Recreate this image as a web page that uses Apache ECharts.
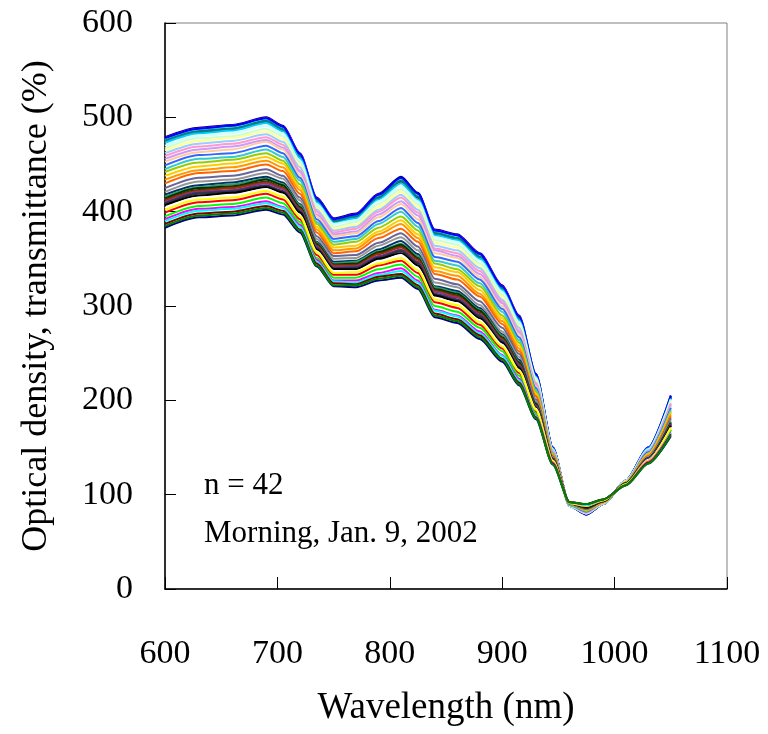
<!DOCTYPE html>
<html>
<head>
<meta charset="utf-8">
<script src="https://cdn.jsdelivr.net/npm/echarts@6/dist/echarts.min.js"></script>
<style>
  html, body { margin: 0; padding: 0; background: #fff; }
  #chart { width: 768px; height: 734px; }
</style>
</head>
<body>
<div id="chart"></div>
<script>
var wavelength = [600, 630, 660, 690, 705, 720, 735, 750, 770, 790, 810, 825, 840, 860, 880, 900, 915, 930, 945, 960, 975, 990, 1010, 1030, 1050];

// 42 spectra, series order as in the original workbook
var s01 = [479,489,492,500,491,462,415,393,398,419,437,420,381,376,356,322,290,228,150,88,79,90,115,150,205];
var s02 = [478,488,491,499,490,461,414,392,397,418,435,418,380,375,355,321,289,227,150,88,79,90,115,150,204];
var s03 = [476,486,489,497,488,459,412,390,395,416,433,416,378,373,353,319,287,226,149,88,79,90,115,149,203];
var s04 = [477,487,490,498,489,460,413,391,396,417,434,417,379,374,354,320,288,227,150,88,79,90,115,150,204];
var s05 = [475,485,488,496,487,458,412,390,394,415,432,415,377,372,352,318,287,226,149,88,79,90,115,149,203];
var s06 = [474,484,487,495,486,458,411,389,394,414,432,415,376,371,351,318,286,226,149,88,80,90,115,149,203];
var s07 = [475,485,488,496,487,459,412,390,395,415,433,416,377,372,352,319,287,226,149,88,79,90,115,149,203];
var s08 = [478,488,491,499,490,461,414,392,397,418,436,419,380,375,355,321,289,228,150,88,79,90,115,150,205];
var s09 = [473,483,486,494,485,457,410,388,393,413,430,413,375,370,350,317,285,225,149,88,80,90,115,149,202];
var s10 = [470,480,483,491,483,454,408,387,391,411,427,411,373,368,348,315,283,224,148,88,80,90,115,148,201];
var s11 = [467,478,480,488,480,452,406,384,389,408,424,408,370,365,345,312,281,222,148,88,80,91,114,148,200];
var s12 = [465,475,478,485,477,449,404,382,386,405,421,405,367,362,342,310,279,221,147,89,81,91,114,147,199];
var s13 = [462,472,475,482,474,447,402,380,384,402,418,402,364,359,340,307,277,219,147,89,81,91,114,147,197];
var s14 = [459,469,472,479,471,444,400,378,382,400,415,399,361,356,337,305,274,218,146,89,81,91,114,146,196];
var s15 = [456,466,469,476,468,442,397,376,379,397,411,396,359,353,334,303,272,216,146,89,82,91,114,146,195];
var s16 = [453,463,466,474,466,439,395,374,377,394,408,392,356,351,331,300,270,215,145,89,82,91,114,145,193];
var s17 = [449,460,462,470,462,436,392,371,374,390,404,388,352,347,328,297,267,213,144,89,82,92,113,145,192];
var s18 = [445,456,458,466,458,433,389,368,371,387,400,384,348,343,324,294,264,211,144,89,83,92,113,144,190];
var s19 = [442,452,455,462,454,429,387,365,368,383,395,380,345,339,321,290,261,209,143,90,83,92,113,143,188];
var s20 = [438,448,451,458,451,426,384,362,364,379,391,376,341,336,317,287,258,207,142,90,84,92,113,143,187];
var s21 = [434,444,447,454,447,423,381,359,361,376,387,372,337,332,313,284,255,205,142,90,84,92,113,142,185];
var s22 = [430,441,443,450,443,419,378,356,358,372,382,368,334,328,310,281,252,204,141,90,85,93,112,141,183];
var s23 = [425,436,438,445,438,415,374,353,354,367,377,363,329,323,305,277,249,201,140,90,85,93,112,140,181];
var s24 = [421,432,434,441,435,412,371,350,351,364,373,359,325,320,301,273,246,199,139,90,86,93,112,140,179];
var s25 = [418,428,431,437,431,408,368,347,348,360,369,355,321,316,298,270,243,197,138,91,86,93,112,139,177];
var s26 = [416,426,429,435,429,407,367,345,347,358,366,353,320,314,296,269,241,196,138,91,86,93,112,139,177];
var s27 = [414,425,427,434,428,405,366,344,345,357,365,351,318,313,295,267,240,196,138,91,86,93,112,139,176];
var s28 = [413,423,426,432,426,404,365,343,344,356,363,350,317,311,293,266,239,195,138,91,87,93,112,138,175];
var s29 = [412,422,425,431,425,403,364,343,343,355,362,349,316,310,292,265,238,194,137,91,87,94,111,138,175];
var s30 = [410,421,423,430,424,402,363,342,342,353,360,347,315,309,291,264,237,194,137,91,87,94,111,138,174];
var s31 = [409,420,422,428,422,401,362,340,341,352,359,346,313,307,290,263,236,193,137,91,87,94,111,138,174];
var s32 = [408,419,421,427,421,400,361,340,340,351,358,345,312,306,289,262,235,192,137,91,87,94,111,137,173];
var s33 = [407,417,420,426,420,399,360,339,339,350,356,343,311,305,287,261,234,192,136,91,87,94,111,137,173];
var s34 = [404,415,417,424,418,396,358,337,337,347,354,340,308,303,285,259,232,191,136,91,88,94,111,137,171];
var s35 = [399,410,412,419,413,392,354,333,333,343,348,335,304,298,280,255,229,188,135,91,88,94,111,136,169];
var s36 = [395,406,408,415,409,389,351,330,330,339,344,331,300,294,277,252,226,186,134,91,89,94,111,135,168];
var s37 = [383,394,396,402,397,378,342,321,320,327,330,318,288,282,265,241,216,180,132,92,90,95,110,133,162];
var s38 = [402,413,415,422,416,395,357,335,336,345,351,338,307,301,283,257,231,190,136,91,88,94,111,136,171];
var s39 = [392,403,405,411,405,386,349,327,327,335,340,327,296,290,273,248,223,184,134,92,89,95,110,135,166];
var s40 = [390,401,403,409,404,384,347,326,325,333,337,325,295,289,271,247,221,183,133,92,89,95,110,134,165];
var s41 = [387,398,400,406,401,381,345,324,323,331,334,322,292,286,269,244,219,182,133,92,90,95,110,134,164];
var s42 = [385,396,398,404,399,380,343,322,322,329,332,320,290,284,267,243,217,181,132,92,90,95,110,133,163];

var spectra = [s01,s02,s03,s04,s05,s06,s07,s08,s09,s10,s11,s12,s13,s14,s15,s16,s17,s18,s19,s20,s21,
               s22,s23,s24,s25,s26,s27,s28,s29,s30,s31,s32,s33,s34,s35,s36,s37,s38,s39,s40,s41,s42];

// old spreadsheet line palette
var lineColors = ['#000080','#FF00FF','#FFFF00','#00FFFF','#800080','#800000','#008080','#0000FF',
                  '#00CCFF','#CCFFFF','#CCFFCC','#FFFF99','#99CCFF','#FF99CC','#CC99FF','#FFCC99',
                  '#3366FF','#33CCCC','#99CC00','#FFCC00','#FF9900','#FF6600','#666699','#969696',
                  '#003366','#339966','#003300','#333300','#993300','#993366','#333399','#333333',
                  '#000000','#FFFFFF','#FF0000','#00FF00','#000080','#FFFF00','#FF00FF','#00FFFF',
                  '#800000','#008000'];

var xTicks = [600, 700, 800, 900, 1000, 1100];
var yTicks = [0, 100, 200, 300, 400, 500, 600];
var notes = ['n = 42', 'Morning, Jan. 9, 2002'];

var serif = '"Liberation Serif", "Times New Roman", serif';

var chart = echarts.init(document.getElementById('chart'), null, { renderer: 'canvas' });

var series = spectra.map(function (s, k) {
    return {
        name: 'S' + (k + 1),
        type: 'line',
        symbol: 'none',
        smooth: 0.25,
        smoothMonotone: 'x',
        lineStyle: { color: lineColors[k], width: 2 },
        data: wavelength.map(function (w, i) { return [w, s[i]]; })
    };
});

chart.setOption({
    animation: false,
    backgroundColor: '#fff',
    grid: {
        left: 165, top: 23, right: 41, bottom: 145,
        show: true, borderColor: '#808080', borderWidth: 1, backgroundColor: 'transparent'
    },
    xAxis: {
        type: 'value',
        min: xTicks[0], max: xTicks[xTicks.length - 1], interval: 100,
        name: 'Wavelength (nm)',
        nameLocation: 'middle', nameGap: 101,
        nameTextStyle: { fontFamily: serif, fontSize: 37, color: '#000' },
        axisLine: { show: true, onZero: false, lineStyle: { color: '#000', width: 1.5 } },
        axisTick: { show: true, inside: true, length: 12, lineStyle: { color: '#000' } },
        axisLabel: {
            margin: 48, fontFamily: serif, fontSize: 34, color: '#000',
            formatter: function (v) { return String(v); }
        },
        splitLine: { show: false }
    },
    yAxis: {
        type: 'value',
        min: yTicks[0], max: yTicks[yTicks.length - 1], interval: 100,
        name: 'Optical density, transmittance (%)',
        nameLocation: 'middle', nameGap: 110,
        nameTextStyle: { fontFamily: serif, fontSize: 36, color: '#000' },
        axisLine: { show: true, onZero: false, lineStyle: { color: '#000', width: 1.5 } },
        axisTick: { show: true, inside: true, length: 11, lineStyle: { color: '#000' } },
        axisLabel: {
            margin: 32, fontFamily: serif, fontSize: 34, color: '#000',
            formatter: function (v) { return String(v); }
        },
        splitLine: { show: false }
    },
    graphic: [
        { type: 'text', left: 204, top: 470, style: { text: notes[0], font: '31px ' + serif, fill: '#000' } },
        { type: 'text', left: 204, top: 518, style: { text: notes[1], font: '31px ' + serif, fill: '#000' } }
    ],
    series: series
});
</script>
</body>
</html>
